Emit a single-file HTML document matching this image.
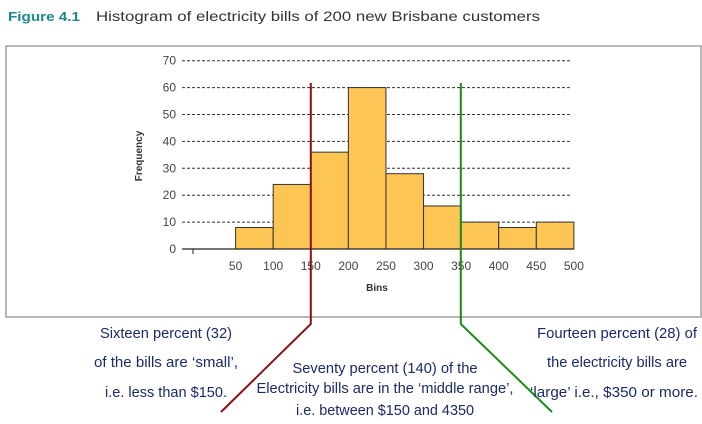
<!DOCTYPE html>
<html><head><meta charset="utf-8"><style>
html,body{margin:0;padding:0;background:#fff;}
svg{display:block;font-family:"Liberation Sans",sans-serif;}
</style></head><body>
<svg id="chart" width="702" height="424" viewBox="0 0 702 424">
<text x="8" y="21" font-size="13" font-weight="bold" fill="#1a8a8a" textLength="72" lengthAdjust="spacingAndGlyphs">Figure 4.1</text>
<text x="96" y="21" font-size="14" fill="#333" textLength="444" lengthAdjust="spacingAndGlyphs">Histogram of electricity bills of 200 new Brisbane customers</text>
<rect x="6" y="46" width="695" height="271" fill="none" stroke="#888" stroke-width="1.2"/>
<g id="grid"></g><g id="bars"></g><g id="axes"></g>
<text x="377" y="291" font-size="10" font-weight="bold" fill="#333" text-anchor="middle">Bins</text>
<text transform="translate(142,156) rotate(-90)" font-size="10" font-weight="bold" fill="#333" text-anchor="middle">Frequency</text>
<polyline points="310.8,83 310.8,324 221,412" fill="none" stroke="#8b1010" stroke-width="2"/>
<polyline points="460.8,83 460.8,324 552,412" fill="none" stroke="#1a8a1a" stroke-width="2"/>
<g font-size="15" fill="#1a2a6a" text-anchor="middle" lengthAdjust="spacingAndGlyphs">
<text x="166" y="338" textLength="132" lengthAdjust="spacingAndGlyphs">Sixteen percent (32)</text>
<text x="166" y="367" textLength="144" lengthAdjust="spacingAndGlyphs">of the bills are ‘small’,</text>
<text x="166" y="397" textLength="122" lengthAdjust="spacingAndGlyphs">i.e. less than $150.</text>
</g>
<g font-size="15" fill="#1a2a6a" text-anchor="middle">
<text x="385" y="373" textLength="185" lengthAdjust="spacingAndGlyphs">Seventy percent (140) of the</text>
<text x="385" y="393" textLength="257" lengthAdjust="spacingAndGlyphs">Electricity bills are in the ‘middle range’,</text>
<text x="385" y="415" textLength="178" lengthAdjust="spacingAndGlyphs">i.e. between $150 and 4350</text>
</g>
<g font-size="15" fill="#1a2a6a" text-anchor="middle">
<text x="617" y="338" textLength="160" lengthAdjust="spacingAndGlyphs">Fourteen percent (28)  of</text>
<text x="617" y="367" textLength="140" lengthAdjust="spacingAndGlyphs">the electricity bills are</text>
<text x="614" y="397" textLength="168" lengthAdjust="spacingAndGlyphs">‘large’ i.e., $350 or more.</text>
</g>
</svg>
<script>
const binStarts=[50,100,150,200,250,300,350,400,450];
const frequencies=[8,24,36,60,28,16,10,8,10];
const yTicks=[0,10,20,30,40,50,60,70];
const xTicks=[50,100,150,200,250,300,350,400,450,500];
const binWidth=50;
const NS="http://www.w3.org/2000/svg";
function xs(v){return 235.6+(v-50)*(573.9-235.6)/450;}
function ys(v){return 249-v*(249-60.7)/70;}
function mk(tag,attrs,parent){const e=document.createElementNS(NS,tag);for(const k in attrs)e.setAttribute(k,attrs[k]);parent.appendChild(e);return e;}
const grid=document.getElementById('grid'),bars=document.getElementById('bars'),axes=document.getElementById('axes');
yTicks.forEach(t=>{
  if(t>0){const l=mk('line',{x1:182,x2:572,y1:ys(t),y2:ys(t),stroke:'#333','stroke-width':1,'stroke-dasharray':'3,2'},grid);
  
  }
  const tx=mk('text',{x:176,y:ys(t)+4,'font-size':12,fill:'#444','text-anchor':'end'},axes);
  tx.textContent=t;
  
  
});
binStarts.forEach((b,i)=>{
  const r=mk('rect',{x:xs(b),y:ys(frequencies[i]),width:xs(b+binWidth)-xs(b),height:ys(0)-ys(frequencies[i]),fill:'#fdc553',stroke:'#333','stroke-width':1},bars);
  
  
});
const ax=mk('line',{x1:182,x2:xs(500),y1:ys(0),y2:ys(0),stroke:'#222','stroke-width':1.2},axes);


const t0=mk('line',{x1:193,x2:193,y1:ys(0),y2:ys(0)+5,stroke:'#222'},axes);


xTicks.forEach(t=>{
  const tx=mk('text',{x:xs(t),y:270,'font-size':12,fill:'#444','text-anchor':'middle'},axes);
  tx.textContent=t;
  
  
});
</script>
</body></html>
